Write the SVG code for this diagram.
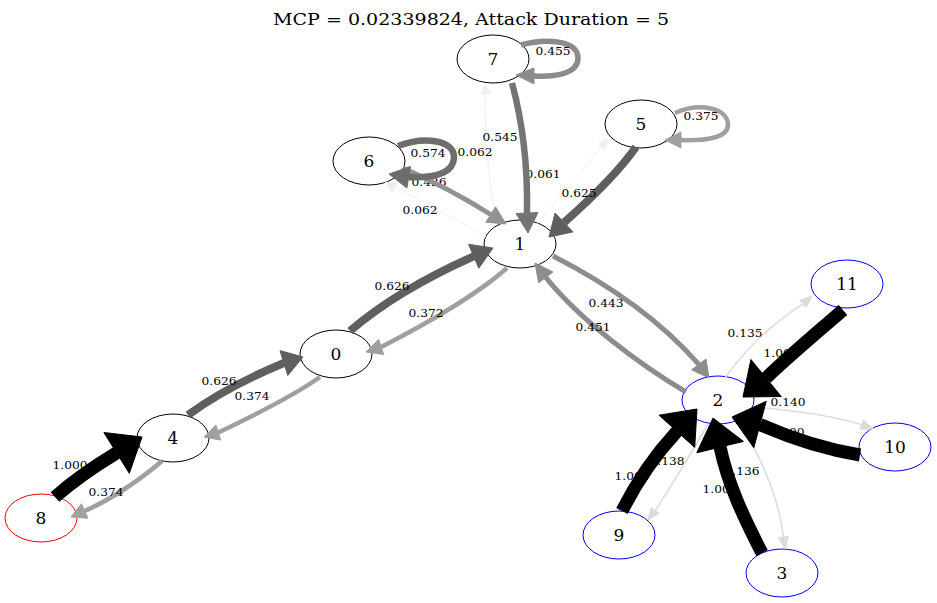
<svg xmlns="http://www.w3.org/2000/svg" width="937" height="603" viewBox="0 0 937 603">
<style>
text{font-family:"DejaVu Serif","Liberation Serif",serif;fill:#000}
.title{font-size:16px}
.nl{font-size:17px;text-anchor:middle}
.el{font-size:11px;text-anchor:middle}
.node ellipse{fill:#fff;stroke:#000;stroke-width:1}
.node.red ellipse{stroke:#f00}
.node.blue ellipse{stroke:#00f}
.edge path{fill:none;stroke-linecap:butt}
.w100 path{stroke:#000;stroke-width:13}.w100 polygon{fill:#000;stroke:#000}
.w63 path{stroke:#5f5f5f;stroke-width:8}.w63 polygon{fill:#5f5f5f;stroke:#5f5f5f}
.w57 path{stroke:#6d6d6d;stroke-width:6.5}.w57 polygon{fill:#6d6d6d;stroke:#6d6d6d}
.w55 path{stroke:#747474;stroke-width:6.5}.w55 polygon{fill:#747474;stroke:#747474}
.w46 path{stroke:#8b8b8b;stroke-width:5.5}.w46 polygon{fill:#8b8b8b;stroke:#8b8b8b}
.w45 path{stroke:#8d8d8d;stroke-width:5}.w45 polygon{fill:#8d8d8d;stroke:#8d8d8d}
.w43 path{stroke:#929292;stroke-width:5}.w43 polygon{fill:#929292;stroke:#929292}
.w37 path{stroke:#a0a0a0;stroke-width:4.5}.w37 polygon{fill:#a0a0a0;stroke:#a0a0a0}
.w14 path{stroke:#dcdcdc;stroke-width:1.5}.w14 polygon{fill:#dcdcdc;stroke:#dcdcdc}
.w06 path{stroke:#efefef;stroke-width:1}.w06 polygon{fill:#efefef;stroke:#efefef}
</style>
<rect width="937" height="603" fill="#fff"/>
<text class="title" x="471" y="25" text-anchor="middle" textLength="396" lengthAdjust="spacingAndGlyphs">MCP = 0.02339824, Attack Duration = 5</text>

<g id="nodes">
<g id="node7" class="node"><ellipse cx="493" cy="59" rx="36" ry="24"/><text class="nl" x="493" y="65">7</text></g>
<g id="node5" class="node"><ellipse cx="641" cy="124" rx="36" ry="24"/><text class="nl" x="641" y="130">5</text></g>
<g id="node6" class="node"><ellipse cx="369" cy="161" rx="36" ry="24"/><text class="nl" x="369" y="167">6</text></g>
<g id="node1" class="node"><ellipse cx="520" cy="244" rx="36" ry="24"/><text class="nl" x="520" y="250">1</text></g>
<g id="node0" class="node"><ellipse cx="336" cy="354" rx="36" ry="24"/><text class="nl" x="336" y="360">0</text></g>
<g id="node4" class="node"><ellipse cx="173" cy="438" rx="36" ry="24"/><text class="nl" x="173" y="444">4</text></g>
<g id="node8" class="node red"><ellipse cx="41" cy="518" rx="36" ry="24"/><text class="nl" x="41" y="524">8</text></g>
<g id="node11" class="node blue"><ellipse cx="847" cy="284" rx="36" ry="24"/><text class="nl" x="847" y="290">11</text></g>
<g id="node2" class="node blue"><ellipse cx="718" cy="400" rx="36" ry="24"/><text class="nl" x="718" y="406">2</text></g>
<g id="node10" class="node blue"><ellipse cx="895" cy="447" rx="36" ry="24"/><text class="nl" x="895" y="453">10</text></g>
<g id="node9" class="node blue"><ellipse cx="619" cy="535" rx="36" ry="24"/><text class="nl" x="619" y="541">9</text></g>
<g id="node3" class="node blue"><ellipse cx="782" cy="573" rx="36" ry="24"/><text class="nl" x="782" y="579">3</text></g>
</g>

<g id="labels-under">
<text class="el" x="429" y="186" textLength="35" lengthAdjust="spacingAndGlyphs">0.426</text>
<text class="el" x="543" y="178" textLength="35" lengthAdjust="spacingAndGlyphs">0.061</text>
<text class="el" x="781" y="357" textLength="35" lengthAdjust="spacingAndGlyphs">1.000</text>
<text class="el" x="788" y="406" textLength="35" lengthAdjust="spacingAndGlyphs">0.140</text>
<text class="el" x="787" y="436" textLength="35" lengthAdjust="spacingAndGlyphs">1.000</text>
<text class="el" x="667" y="465" textLength="35" lengthAdjust="spacingAndGlyphs">0.138</text>
<text class="el" x="632" y="480" textLength="35" lengthAdjust="spacingAndGlyphs">1.000</text>
<text class="el" x="742" y="475" textLength="35" lengthAdjust="spacingAndGlyphs">0.136</text>
<text class="el" x="720" y="493" textLength="35" lengthAdjust="spacingAndGlyphs">1.000</text>
<text class="el" x="70" y="469" textLength="35" lengthAdjust="spacingAndGlyphs">1.000</text>
</g>

<g id="edges">
<g id="e1_7" class="edge w06"><path d="M497,222 C488,180 484,130 485.5,94"/><polygon points="485,84 481,94 490,94"/></g>
<g id="e1_6" class="edge w06"><path d="M486,237 C450,215 420,200 394.6,187.5"/><polygon points="385,182 397.1,183.2 392.1,191.9"/></g>
<g id="e1_5" class="edge w06"><path d="M537,224 Q570,185 601.6,146.7"/><polygon points="608,139 605.1,149.6 598.1,143.8"/></g>
<g id="e2_11" class="edge w14"><path d="M725,378 C745,350 770,325 803,303.9"/><polygon points="812,296 806.3,307.7 799.7,300.2"/></g>
<g id="e2_10" class="edge w14"><path d="M754,407 C790,410 830,415 861.8,424.6"/><polygon points="873,429 860,429.2 863.7,419.9"/></g>
<g id="e2_9" class="edge w14"><path d="M708,424 C690,455 672,485 655.2,510.4"/><polygon points="648,520 651.2,507.4 659.2,513.4"/></g>
<g id="e2_3" class="edge w14"><path d="M738,421 C760,455 778,495 783.6,537.1"/><polygon points="785,549 778.6,537.7 788.5,536.5"/></g>
<g id="e7_7" class="edge w46"><path d="M521,45 C545,38 578,40 578,58 C578,74 555,77 534,76"/><polygon points="516,75 534,68 534,84"/></g>
<g id="e7_1" class="edge w55"><path d="M512,83 C522,120 528,160 527,213"/><polygon points="528,233 516,213.5 538,212.5"/></g>
<g id="e5_5" class="edge w37"><path d="M675,113 C700,102 728,108 728,125 C728,138 705,141 681,140"/><polygon points="665,140 681,132 681,148"/></g>
<g id="e5_1" class="edge w63"><path d="M636,147 C620,170 595,195 564.1,222.5"/><polygon points="549,237 555.1,213.1 573.1,231.9"/></g>
<g id="e6_1" class="edge w43"><path d="M403,168 C430,180 460,195 490.7,214.5"/><polygon points="506,224 485.9,222.2 495.5,206.8"/></g>
<g id="e6_6" class="edge w57"><path d="M398,146 C425,136 455,140 454,158 C453,174 432,178 408.7,177.2"/><polygon points="389,174 410.5,166.4 406.9,188"/></g>
<g id="e0_1" class="edge w63"><path d="M350,331 C380,305 425,278 473.7,256.3"/><polygon points="493,248 478.8,268.3 468.6,244.3"/></g>
<g id="e1_0" class="edge w37"><path d="M507,268 C480,292 430,322 381.2,346.9"/><polygon points="366,352 378.7,339.3 383.7,354.5"/></g>
<g id="e1_2" class="edge w45"><path d="M553,256 C610,285 660,320 698.8,364.4"/><polygon points="709,378 691.6,369.8 706,359"/></g>
<g id="e2_1" class="edge w45"><path d="M686,392 C640,365 580,320 545.8,277.4"/><polygon points="535,263 553,272 538.6,282.8"/></g>
<g id="e4_0" class="edge w63"><path d="M188,415 C215,395 250,377 283.9,363"/><polygon points="303,357 287.8,375.4 280,350.6"/></g>
<g id="e0_4" class="edge w37"><path d="M320,377 C295,395 255,415 218.3,432.5"/><polygon points="204,437 215.9,424.9 220.7,440.1"/></g>
<g id="e4_8" class="edge w37"><path d="M162,461 C140,480 110,500 84.7,511"/><polygon points="71,517 81.5,503.7 87.9,518.3"/></g>
<g id="e8_4" class="edge w100"><path d="M55,497 C72,482 95,466 116.6,452.9"/><polygon points="142,437 129.3,473.3 103.9,432.5"/></g>
<g id="e11_2" class="edge w100"><path d="M843,310 C820,330 790,355 766.1,378"/><polygon points="743,397 750.9,359.5 781.3,396.5"/></g>
<g id="e10_2" class="edge w100"><path d="M860,455 C830,450 795,440 760,424.5"/><polygon points="732,417 766.2,401.3 753.8,447.7"/></g>
<g id="e9_2" class="edge w100"><path d="M622,511 C635,485 655,455 676.9,431.3"/><polygon points="697,409 694.7,447.4 659.1,415.2"/></g>
<g id="e3_2" class="edge w100"><path d="M762,553 C745,520 728,485 720.1,447.1"/><polygon points="713,418 743.4,441.4 696.8,452.8"/></g>
</g>

<g id="labels">
<text class="el" x="553" y="55" textLength="35" lengthAdjust="spacingAndGlyphs">0.455</text>
<text class="el" x="701" y="120" textLength="35" lengthAdjust="spacingAndGlyphs">0.375</text>
<text class="el" x="428" y="157" textLength="35" lengthAdjust="spacingAndGlyphs">0.574</text>
<text class="el" x="475" y="156" textLength="35" lengthAdjust="spacingAndGlyphs">0.062</text>
<text class="el" x="500" y="141" textLength="35" lengthAdjust="spacingAndGlyphs">0.545</text>
<text class="el" x="579" y="197" textLength="35" lengthAdjust="spacingAndGlyphs">0.625</text>
<text class="el" x="420" y="214" textLength="35" lengthAdjust="spacingAndGlyphs">0.062</text>
<text class="el" x="392" y="290" textLength="35" lengthAdjust="spacingAndGlyphs">0.626</text>
<text class="el" x="426" y="317" textLength="35" lengthAdjust="spacingAndGlyphs">0.372</text>
<text class="el" x="606" y="307" textLength="35" lengthAdjust="spacingAndGlyphs">0.443</text>
<text class="el" x="593" y="331" textLength="35" lengthAdjust="spacingAndGlyphs">0.451</text>
<text class="el" x="219" y="385" textLength="35" lengthAdjust="spacingAndGlyphs">0.626</text>
<text class="el" x="252" y="400" textLength="35" lengthAdjust="spacingAndGlyphs">0.374</text>
<text class="el" x="106" y="496" textLength="35" lengthAdjust="spacingAndGlyphs">0.374</text>
<text class="el" x="745" y="337" textLength="35" lengthAdjust="spacingAndGlyphs">0.135</text>
</g>
</svg>
